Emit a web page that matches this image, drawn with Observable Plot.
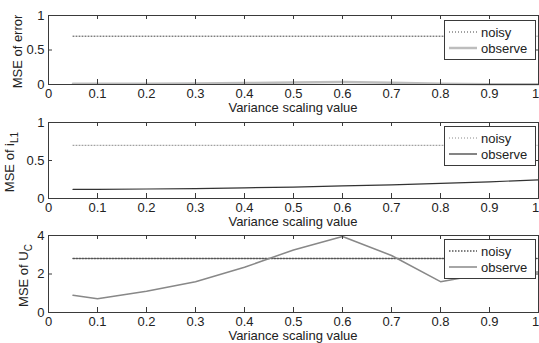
<!DOCTYPE html>
<html>
<head>
<meta charset="utf-8">
<script src="https://cdn.jsdelivr.net/npm/d3@7"></script>
<script src="https://cdn.jsdelivr.net/npm/@observablehq/plot@0.6"></script>
<style>
  body { margin: 0; background: #fff; }
  #chart { position: relative; width: 539px; height: 343px; background: #fff; }
  #chart svg { position: absolute; left: 0; top: 0; }
</style>
</head>
<body>
<div id="chart"></div>
<script>
// ---- data ----
const xValues = [0.05, 0.1, 0.2, 0.3, 0.4, 0.5, 0.6, 0.7, 0.8, 0.9, 1.0];
const xTicks = [0, 0.1, 0.2, 0.3, 0.4, 0.5, 0.6, 0.7, 0.8, 0.9, 1];
const xTickLabels = ["0", "0.1", "0.2", "0.3", "0.4", "0.5", "0.6", "0.7", "0.8", "0.9", "1"];
const xLabel = "Variance scaling value";
const seriesNames = ["noisy", "observe"];

const errorNoisy   = [0.7, 0.7, 0.7, 0.7, 0.7, 0.7, 0.7, 0.7, 0.7, 0.7, 0.7];
const errorObserve = [0.01, 0.01, 0.01, 0.015, 0.02, 0.03, 0.035, 0.025, 0.01, 0.005, 0.005];
const errorTicks = [0, 0.5, 1];
const errorTickLabels = ["0", "0.5", "1"];

const iL1Noisy   = [0.7, 0.7, 0.7, 0.7, 0.7, 0.7, 0.7, 0.7, 0.7, 0.7, 0.7];
const iL1Observe = [0.12, 0.12, 0.125, 0.13, 0.14, 0.15, 0.165, 0.18, 0.2, 0.22, 0.245];
const iL1Ticks = [0, 0.5, 1];
const iL1TickLabels = ["0", "0.5", "1"];

const uCNoisy   = [2.8, 2.8, 2.8, 2.8, 2.8, 2.8, 2.8, 2.8, 2.8, 2.8, 2.8];
const uCObserve = [0.9, 0.72, 1.1, 1.6, 2.35, 3.25, 3.95, 2.96, 1.6, 2.05, 2.1];
const uCTicks = [0, 2, 4];
const uCTickLabels = ["0", "2", "4"];

// ---- layout / style ----
const W = 539, H = 343;
const marginLeft = 48, marginRight = 1;
const font = "'Liberation Sans', Arial, Helvetica, sans-serif";
const textColor = "#222";
const axisColor = "#3a3a3a";

const panels = [
  {top: 15, bottom: 84, domain: [0, 1], ticks: errorTicks, tickLabels: errorTickLabels,
   noisy: errorNoisy, observe: errorObserve,
   noisyStyle: {stroke: "#444", width: 1, dash: "1,2"},
   observeStyle: {stroke: "#bdbdbd", width: 2.5},
   label: [{t: "MSE of error"}], labelX: 22, legendRows: [32, 48]},
  {top: 122, bottom: 198, domain: [0, 1], ticks: iL1Ticks, tickLabels: iL1TickLabels,
   noisy: iL1Noisy, observe: iL1Observe,
   noisyStyle: {stroke: "#8a8a8a", width: 1, dash: "1,2"},
   observeStyle: {stroke: "#333", width: 1.2},
   label: [{t: "MSE of i"}, {t: "L1", sub: true}], labelX: 14, legendRows: [138, 154]},
  {top: 235, bottom: 312, domain: [0, 4], ticks: uCTicks, tickLabels: uCTickLabels,
   noisy: uCNoisy, observe: uCObserve,
   noisyStyle: {stroke: "#555", width: 1.5, dash: "1.5,1.5"},
   observeStyle: {stroke: "#888", width: 1.5},
   label: [{t: "MSE of U"}, {t: "C", sub: true}], labelX: 28, legendRows: [251, 267]}
];

const container = document.getElementById("chart");
const frameW = W - marginLeft - marginRight;
const xLabelOf = d => xTickLabels[xTicks.indexOf(d)];

panels.forEach(p => {
  const frameH = p.bottom - p.top;
  const noisyData = xValues.map((x, i) => ({x, y: p.noisy[i]}));
  const observeData = xValues.map((x, i) => ({x, y: p.observe[i]}));
  const innerX = xTicks.slice(1, -1);
  const innerY = p.ticks.slice(1, -1);

  const svg = Plot.plot({
    width: W, height: H,
    marginLeft, marginRight,
    marginTop: p.top, marginBottom: H - p.bottom,
    style: {background: "transparent", overflow: "visible", fontFamily: font},
    x: {domain: [0, 1]},
    y: {domain: p.domain},
    marks: [
      Plot.line(noisyData, {x: "x", y: "y", stroke: p.noisyStyle.stroke, strokeWidth: p.noisyStyle.width, strokeDasharray: p.noisyStyle.dash}),
      Plot.line(observeData, {x: "x", y: "y", stroke: p.observeStyle.stroke, strokeWidth: p.observeStyle.width}),
      Plot.ruleX(innerX, {x: d => d, insetTop: frameH - 5, stroke: axisColor}),
      Plot.ruleX(innerX, {x: d => d, insetBottom: frameH - 4, stroke: axisColor}),
      Plot.ruleY(innerY, {y: d => d, insetRight: frameW - 4, stroke: axisColor}),
      Plot.ruleY(innerY, {y: d => d, insetLeft: frameW - 4, stroke: axisColor}),
      Plot.frame({stroke: axisColor}),
      Plot.axisX(xTicks.slice(0, -1), {anchor: "bottom", tickSize: 0, tickPadding: 4, fontSize: 13, fill: textColor,
        tickFormat: xLabelOf, label: null}),
      Plot.axisX(xTicks.slice(-1), {anchor: "bottom", tickSize: 0, tickPadding: 4, fontSize: 13, fill: textColor,
        tickFormat: xLabelOf, label: null, dx: -3}),
      Plot.axisY(p.ticks, {anchor: "left", tickSize: 0, tickPadding: 4, fontSize: 13, fill: textColor,
        tickFormat: d => p.tickLabels[p.ticks.indexOf(d)], label: null})
    ]
  });

  const s = d3.select(svg);
  // x label
  s.append("text")
    .attr("x", marginLeft + frameW / 2).attr("y", p.bottom + 27.5)
    .attr("text-anchor", "middle").attr("font-size", 13).attr("font-family", font)
    .attr("fill", textColor).text(xLabel);
  // y label
  const yl = s.append("text")
    .attr("transform", `translate(${p.labelX},${(p.top + p.bottom) / 2 + 2}) rotate(-90)`)
    .attr("text-anchor", "middle").attr("font-size", 13).attr("font-family", font)
    .attr("fill", textColor);
  p.label.forEach(part => {
    const ts = yl.append("tspan").text(part.t);
    if (part.sub) ts.attr("font-size", 10).attr("dy", 4);
  });
  // legend
  const lx0 = 444, lx1 = 535;
  const ly0 = p.legendRows[0] - 12, ly1 = p.legendRows[1] + 11;
  const g = s.append("g").attr("text-anchor", "start");
  g.append("rect").attr("x", lx0 + 0.5).attr("y", ly0 + 0.5)
    .attr("width", lx1 - lx0).attr("height", ly1 - ly0)
    .attr("fill", "#fff").attr("stroke", axisColor);
  const styles = [p.noisyStyle, p.observeStyle];
  seriesNames.forEach((name, i) => {
    const y = p.legendRows[i];
    const st = styles[i];
    g.append("line").attr("x1", 449).attr("x2", 477).attr("y1", y).attr("y2", y)
      .attr("stroke", st.stroke).attr("stroke-width", st.width)
      .attr("stroke-dasharray", st.dash || null);
    g.append("text").attr("x", 481).attr("y", y + 4.5).attr("text-anchor", "start")
      .attr("font-size", 13).attr("font-family", font).attr("fill", textColor).text(name);
  });

  container.appendChild(svg);
});
</script>
</body>
</html>
